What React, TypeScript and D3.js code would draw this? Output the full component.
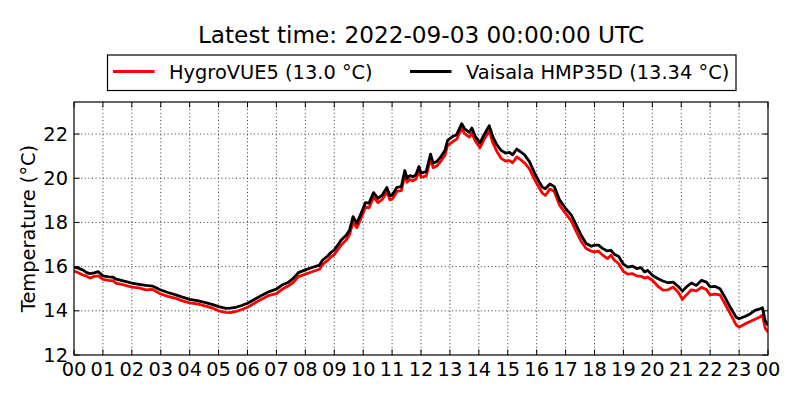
import React, { useEffect, useRef } from "react";
import * as d3 from "d3";

const TITLE = "Latest time: 2022-09-03 00:00:00 UTC";
const Y_LABEL = "Temperature (°C)";
const SERIES_NAMES = ["HygroVUE5 (13.0 °C)", "Vaisala HMP35D (13.34 °C)"];
const SERIES_COLORS = ["#ff0000", "#000000"];
const X_TICKS = d3.range(0, 25);
const X_TICK_LABELS = X_TICKS.map((h) => String(h % 24).padStart(2, "0"));
const Y_TICKS = [12, 14, 16, 18, 20, 22];

// hours since 2022-09-02 00:00 UTC
const HOURS = [
  0.0, 0.15, 0.3, 0.44, 0.55, 0.7, 0.84, 1.0, 1.2, 1.35, 1.46, 1.7, 2.0, 2.25, 2.48, 2.71,
  3.0, 3.25, 3.52, 3.75, 4.0, 4.3, 4.55, 4.8, 5.0, 5.25, 5.4, 5.6, 5.8, 6.0, 6.25, 6.52,
  6.75, 7.0, 7.2, 7.4, 7.58, 7.76, 8.0, 8.26, 8.49, 8.6, 8.77, 8.9, 9.0, 9.24, 9.42, 9.53,
  9.65, 9.78, 9.88, 10.0, 10.08, 10.2, 10.36, 10.51, 10.66, 10.82, 10.93, 11.0, 11.17, 11.32,
  11.44, 11.52, 11.62, 11.72, 11.82, 11.93, 12.0, 12.18, 12.33, 12.42, 12.55, 12.69, 12.83,
  12.92, 13.1, 13.23, 13.41, 13.51, 13.67, 13.76, 13.88, 14.04, 14.15, 14.27, 14.36, 14.48,
  14.62, 14.77, 14.92, 15.06, 15.17, 15.31, 15.43, 15.58, 15.75, 15.93, 16.08, 16.2, 16.3,
  16.46, 16.61, 16.79, 17.0, 17.2, 17.37, 17.54, 17.71, 17.89, 18.0, 18.14, 18.28, 18.45,
  18.57, 18.68, 18.83, 19.0, 19.15, 19.32, 19.46, 19.61, 19.73, 19.84, 20.0, 20.2, 20.37,
  20.54, 20.72, 20.89, 21.04, 21.18, 21.35, 21.52, 21.7, 21.87, 22.0, 22.16, 22.34, 22.51,
  22.69, 22.9, 23.0, 23.2, 23.38, 23.55, 23.72, 23.81, 23.9, 24.0,
];

const HYGROVUE5 = [
  15.8, 15.72, 15.62, 15.57, 15.48, 15.56, 15.58, 15.42, 15.38, 15.36, 15.24, 15.18, 15.07, 15.04, 14.95, 14.97,
  14.76, 14.65, 14.56, 14.45, 14.36, 14.3, 14.21, 14.12, 14.0, 13.93, 13.92, 13.97, 14.06, 14.16, 14.35, 14.55,
  14.7, 14.78, 14.98, 15.12, 15.28, 15.55, 15.66, 15.78, 15.88, 16.1, 16.28, 16.46, 16.54, 16.98, 17.22, 17.45,
  18.02, 17.76, 18.04, 18.42, 18.7, 18.66, 19.14, 18.9, 19.04, 19.38, 19.02, 19.05, 19.4, 19.44,
  20.12, 19.82, 19.94, 19.88, 19.96, 20.32, 20.05, 20.1, 20.88, 20.48, 20.56, 20.78, 21.04,
  21.48, 21.66, 21.76, 22.26, 22.02, 21.86, 22.04, 21.68, 21.38, 21.68, 21.95, 22.14, 21.62,
  21.22, 20.9, 20.78, 20.8, 20.7, 20.96, 20.85, 20.7, 20.42, 19.94, 19.58, 19.32, 19.22,
  19.52, 19.4, 18.78, 18.41, 18.06, 17.58, 17.14, 16.82, 16.7, 16.67, 16.7, 16.52, 16.36,
  16.52, 16.3, 16.14, 15.78, 15.66, 15.68, 15.58, 15.56, 15.48, 15.52, 15.38, 15.1, 14.94,
  14.95, 15.08, 14.85, 14.52, 14.72, 14.95, 14.9, 15.06, 14.96, 14.72, 14.76, 14.72, 14.32,
  13.88, 13.36, 13.26, 13.4, 13.52, 13.62, 13.72, 13.8, 13.22, 13.03,
];

const HMP35D = [
  15.97, 15.93, 15.85, 15.73, 15.68, 15.72, 15.77, 15.58, 15.54, 15.52, 15.43, 15.35, 15.25, 15.2, 15.15, 15.12,
  14.94, 14.83, 14.72, 14.62, 14.52, 14.45, 14.37, 14.28, 14.19, 14.11, 14.12, 14.16, 14.24, 14.34, 14.52, 14.72,
  14.87, 14.98, 15.17, 15.28, 15.47, 15.73, 15.85, 15.97, 16.07, 16.3, 16.48, 16.66, 16.75, 17.2, 17.43, 17.66,
  18.26, 17.96, 18.26, 18.64, 18.9, 18.87, 19.35, 19.09, 19.24, 19.58, 19.2, 19.24, 19.59, 19.62,
  20.35, 20.0, 20.12, 20.07, 20.15, 20.53, 20.23, 20.3, 21.09, 20.68, 20.76, 20.98, 21.26,
  21.71, 21.89, 21.97, 22.47, 22.23, 22.08, 22.27, 21.89, 21.59, 21.89, 22.17, 22.38, 21.89,
  21.52, 21.26, 21.14, 21.17, 21.06, 21.32, 21.21, 21.06, 20.75, 20.23, 19.85, 19.59, 19.52,
  19.74, 19.62, 19.02, 18.64, 18.33, 17.88, 17.42, 17.05, 16.92, 16.97, 16.97, 16.82, 16.71,
  16.74, 16.56, 16.47, 16.11, 15.98, 16.02, 15.91, 15.95, 15.76, 15.83, 15.61, 15.45, 15.35,
  15.27, 15.3, 15.11, 14.89, 15.08, 15.26, 15.15, 15.38, 15.3, 15.08, 15.11, 15.0, 14.62,
  14.17, 13.71, 13.64, 13.74, 13.86, 14.02, 14.09, 14.14, 13.56, 13.34,
];

const SERIES = [HYGROVUE5, HMP35D];

const W = 800;
const H = 400;
const M = { left: 74, right: 768, top: 102, bottom: 355 };
const FONT = "'DejaVu Sans', 'Bitstream Vera Sans', sans-serif";

export default function App() {
  const ref = useRef<SVGSVGElement | null>(null);

  useEffect(() => {
    document.body.style.margin = "0";
    const svg = d3.select(ref.current);
    svg.selectAll("*").remove();

    const x = d3.scaleLinear().domain([0, 24]).range([M.left, M.right]);
    const y = d3.scaleLinear().domain([12, 23.45]).range([M.bottom, M.top]);

    svg.append("rect").attr("width", W).attr("height", H).attr("fill", "#fff");

    // grid
    const grid = svg.append("g").attr("stroke", "#000").attr("stroke-width", 0.8).attr("stroke-dasharray", "1,2.6");
    X_TICKS.slice(1, -1).forEach((t) => {
      grid.append("line").attr("x1", x(t)).attr("x2", x(t)).attr("y1", M.top).attr("y2", M.bottom);
    });
    Y_TICKS.slice(1).forEach((t) => {
      grid.append("line").attr("x1", M.left).attr("x2", M.right).attr("y1", y(t)).attr("y2", y(t));
    });

    // lines
    const clip = svg.append("clipPath").attr("id", "plotclip");
    clip.append("rect").attr("x", M.left).attr("y", M.top).attr("width", M.right - M.left).attr("height", M.bottom - M.top);
    const lg = svg.append("g").attr("clip-path", "url(#plotclip)");
    SERIES.forEach((vals, i) => {
      const line = d3
        .line<number>()
        .x((_, j) => x(HOURS[j]))
        .y((d) => y(d));
      lg.append("path")
        .attr("d", line(vals) as string)
        .attr("fill", "none")
        .attr("stroke", SERIES_COLORS[i])
        .attr("stroke-width", 2.8)
        .attr("stroke-linejoin", "round");
    });

    // frame
    svg.append("rect")
      .attr("x", M.left).attr("y", M.top)
      .attr("width", M.right - M.left).attr("height", M.bottom - M.top)
      .attr("fill", "none").attr("stroke", "#000").attr("stroke-width", 1.2);

    // ticks (inward, all sides)
    const tk = svg.append("g").attr("stroke", "#000").attr("stroke-width", 1);
    const TL = 5.5;
    X_TICKS.forEach((t) => {
      tk.append("line").attr("x1", x(t)).attr("x2", x(t)).attr("y1", M.bottom).attr("y2", M.bottom - TL);
      tk.append("line").attr("x1", x(t)).attr("x2", x(t)).attr("y1", M.top).attr("y2", M.top + TL);
    });
    Y_TICKS.forEach((t) => {
      tk.append("line").attr("x1", M.left).attr("x2", M.left + TL).attr("y1", y(t)).attr("y2", y(t));
      tk.append("line").attr("x1", M.right).attr("x2", M.right - TL).attr("y1", y(t)).attr("y2", y(t));
    });

    // tick labels
    const tl = svg.append("g").attr("font-family", FONT).attr("font-size", 19.4).attr("fill", "#000");
    X_TICKS.forEach((t, i) => {
      tl.append("text").attr("x", x(t)).attr("y", M.bottom + 21).attr("text-anchor", "middle").text(X_TICK_LABELS[i]);
    });
    Y_TICKS.forEach((t) => {
      tl.append("text").attr("x", M.left - 6).attr("y", y(t) + 6.5).attr("text-anchor", "end").text(String(t));
    });

    // y label
    svg.append("text")
      .attr("transform", `translate(35,${(M.top + M.bottom) / 2}) rotate(-90)`)
      .attr("text-anchor", "middle")
      .attr("font-family", FONT).attr("font-size", 19.4)
      .text(Y_LABEL);

    // title
    svg.append("text")
      .attr("x", (M.left + M.right) / 2).attr("y", 43)
      .attr("text-anchor", "middle")
      .attr("font-family", FONT).attr("font-size", 23.2)
      .text(TITLE);

    // legend
    const leg = svg.append("g");
    leg.append("rect").attr("x", 107.5).attr("y", 55).attr("width", 628.5).attr("height", 35.5)
      .attr("fill", "#fff").attr("stroke", "#000").attr("stroke-width", 1.2);
    const legX = [113, 410];
    SERIES_NAMES.forEach((name, i) => {
      leg.append("line").attr("x1", legX[i]).attr("x2", legX[i] + 41.5).attr("y1", 71.5).attr("y2", 71.5)
        .attr("stroke", SERIES_COLORS[i]).attr("stroke-width", 2.8);
      leg.append("text").attr("x", legX[i] + 56).attr("y", 78.5)
        .attr("font-family", FONT).attr("font-size", 19.4).text(name);
    });
  }, []);

  return (
    <div style={{ position: "absolute", left: 0, top: 0 }}>
      <svg ref={ref} width={W} height={H} />
    </div>
  );
}
